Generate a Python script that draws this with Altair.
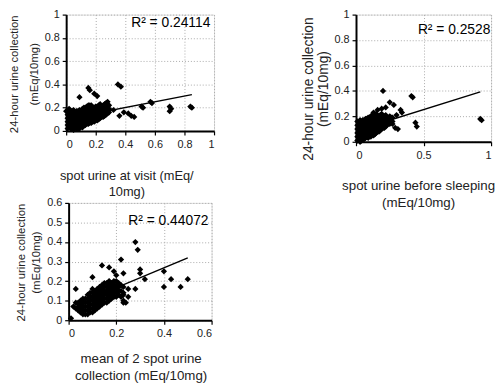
import altair as alt
import pandas as pd

FONT = "Liberation Sans"

# ---------------- Panel 1: spot urine at visit ----------------
visit_points = [
    (0.00, 0.17), (0.01, 0.02), (0.01, 0.05), (0.01, 0.08), (0.01, 0.11), (0.01, 0.14),
    (0.02, 0.19), (0.03, 0.02), (0.03, 0.05), (0.03, 0.08), (0.03, 0.11), (0.03, 0.14), (0.03, 0.17),
    (0.05, 0.01), (0.05, 0.04), (0.05, 0.07), (0.05, 0.10), (0.05, 0.13), (0.05, 0.16), (0.05, 0.18),
    (0.07, 0.02), (0.07, 0.05), (0.07, 0.08), (0.07, 0.11), (0.07, 0.14), (0.07, 0.17),
    (0.09, 0.02), (0.09, 0.05), (0.09, 0.08), (0.09, 0.11), (0.09, 0.14), (0.09, 0.18),
    (0.11, 0.03), (0.11, 0.06), (0.11, 0.09), (0.11, 0.12), (0.11, 0.15), (0.11, 0.19),
    (0.13, 0.05), (0.13, 0.08), (0.13, 0.11), (0.13, 0.14), (0.13, 0.17), (0.13, 0.20),
    (0.15, 0.06), (0.15, 0.09), (0.15, 0.12), (0.15, 0.15), (0.15, 0.18), (0.15, 0.22),
    (0.17, 0.07), (0.17, 0.10), (0.17, 0.13), (0.17, 0.16), (0.17, 0.19), (0.17, 0.22),
    (0.19, 0.08), (0.19, 0.11), (0.19, 0.14), (0.19, 0.17), (0.19, 0.20),
    (0.21, 0.09), (0.21, 0.12), (0.21, 0.15), (0.21, 0.18), (0.21, 0.21),
    (0.23, 0.11), (0.23, 0.14), (0.23, 0.17), (0.23, 0.20), (0.23, 0.23),
    (0.25, 0.12), (0.25, 0.15), (0.25, 0.18), (0.25, 0.22),
    (0.27, 0.14), (0.27, 0.17), (0.27, 0.20), (0.27, 0.24),
    (0.29, 0.16), (0.29, 0.19), (0.29, 0.22),
    (0.02, 0.03), (0.02, 0.06), (0.02, 0.09), (0.02, 0.12), (0.02, 0.15),
    (0.04, 0.02), (0.04, 0.05), (0.04, 0.08), (0.04, 0.11), (0.04, 0.14), (0.04, 0.17),
    (0.06, 0.03), (0.06, 0.06), (0.06, 0.09), (0.06, 0.12), (0.06, 0.15),
    (0.08, 0.02), (0.08, 0.05), (0.08, 0.08), (0.08, 0.11), (0.08, 0.14), (0.08, 0.17),
    (0.10, 0.04), (0.10, 0.07), (0.10, 0.10), (0.10, 0.13), (0.10, 0.16),
    (0.12, 0.05), (0.12, 0.08), (0.12, 0.11), (0.12, 0.14), (0.12, 0.17), (0.12, 0.20),
    (0.14, 0.06), (0.14, 0.09), (0.14, 0.12), (0.14, 0.15), (0.14, 0.18), (0.14, 0.21),
    (0.16, 0.07), (0.16, 0.10), (0.16, 0.13), (0.16, 0.16), (0.16, 0.19), (0.16, 0.22),
    (0.18, 0.08), (0.18, 0.11), (0.18, 0.14), (0.18, 0.17), (0.18, 0.20),
    (0.20, 0.09), (0.20, 0.12), (0.20, 0.15), (0.20, 0.18), (0.20, 0.21),
    (0.22, 0.10), (0.22, 0.13), (0.22, 0.16), (0.22, 0.19), (0.22, 0.22),
    (0.24, 0.12), (0.24, 0.15), (0.24, 0.18), (0.24, 0.21),
    (0.26, 0.13), (0.26, 0.16), (0.26, 0.19), (0.26, 0.23),
    (0.28, 0.15), (0.28, 0.18), (0.28, 0.21), (0.28, 0.25),
    (0.09, 0.29), (0.15, 0.37), (0.16, 0.35), (0.19, 0.32), (0.21, 0.30),
    (0.35, 0.40), (0.37, 0.38), (0.36, 0.13), (0.39, 0.16), (0.42, 0.15), (0.44, 0.13),
    (0.46, 0.12), (0.32, 0.18), (0.51, 0.21), (0.52, 0.20), (0.57, 0.25), (0.58, 0.24),
    (0.70, 0.21), (0.71, 0.19), (0.70, 0.17), (0.84, 0.21), (0.85, 0.20),
]
visit_line_x = [0.0, 0.85]
visit_line_y = [0.103, 0.312]
visit_r2 = "R² = 0.24114"

# ---------------- Panel 2: spot urine before sleeping ----------------
sleep_points = [
    (0.01, 0.01), (0.01, 0.04), (0.01, 0.07), (0.01, 0.10), (0.01, 0.13), (0.01, 0.16),
    (0.03, 0.00), (0.03, 0.03), (0.03, 0.06), (0.03, 0.09), (0.03, 0.12), (0.03, 0.15), (0.03, 0.17),
    (0.05, 0.02), (0.05, 0.05), (0.05, 0.08), (0.05, 0.11), (0.05, 0.14), (0.05, 0.17),
    (0.07, 0.03), (0.07, 0.06), (0.07, 0.09), (0.07, 0.12), (0.07, 0.15), (0.07, 0.18),
    (0.09, 0.03), (0.09, 0.06), (0.09, 0.09), (0.09, 0.12), (0.09, 0.15), (0.09, 0.19),
    (0.11, 0.04), (0.11, 0.07), (0.11, 0.10), (0.11, 0.13), (0.11, 0.16), (0.11, 0.20),
    (0.13, 0.05), (0.13, 0.08), (0.13, 0.11), (0.13, 0.14), (0.13, 0.17), (0.13, 0.21),
    (0.15, 0.07), (0.15, 0.10), (0.15, 0.13), (0.15, 0.16), (0.15, 0.19), (0.15, 0.22),
    (0.17, 0.08), (0.17, 0.11), (0.17, 0.14), (0.17, 0.17), (0.17, 0.20),
    (0.19, 0.10), (0.19, 0.13), (0.19, 0.16), (0.19, 0.19), (0.19, 0.22),
    (0.21, 0.11), (0.21, 0.14), (0.21, 0.17), (0.21, 0.20),
    (0.23, 0.13), (0.23, 0.16), (0.23, 0.19),
    (0.25, 0.14), (0.25, 0.17), (0.25, 0.20),
    (0.27, 0.16), (0.27, 0.19),
    (0.02, 0.02), (0.02, 0.05), (0.02, 0.08), (0.02, 0.11), (0.02, 0.14),
    (0.04, 0.01), (0.04, 0.04), (0.04, 0.07), (0.04, 0.10), (0.04, 0.13), (0.04, 0.16),
    (0.06, 0.02), (0.06, 0.05), (0.06, 0.08), (0.06, 0.11), (0.06, 0.14), (0.06, 0.17),
    (0.08, 0.04), (0.08, 0.07), (0.08, 0.10), (0.08, 0.13), (0.08, 0.16), (0.08, 0.18),
    (0.10, 0.05), (0.10, 0.08), (0.10, 0.11), (0.10, 0.14), (0.10, 0.17), (0.10, 0.19),
    (0.12, 0.06), (0.12, 0.09), (0.12, 0.12), (0.12, 0.15), (0.12, 0.18), (0.12, 0.21),
    (0.14, 0.06), (0.14, 0.09), (0.14, 0.12), (0.14, 0.15), (0.14, 0.18), (0.14, 0.20),
    (0.16, 0.08), (0.16, 0.11), (0.16, 0.14), (0.16, 0.17), (0.16, 0.20),
    (0.18, 0.09), (0.18, 0.12), (0.18, 0.15), (0.18, 0.18), (0.18, 0.21),
    (0.20, 0.11), (0.20, 0.14), (0.20, 0.17), (0.20, 0.20),
    (0.22, 0.12), (0.22, 0.15), (0.22, 0.18), (0.22, 0.21),
    (0.24, 0.15), (0.24, 0.18), (0.26, 0.16), (0.26, 0.19),
    (0.20, 0.40), (0.41, 0.36), (0.42, 0.35), (0.92, 0.18), (0.93, 0.17),
    (0.44, 0.15), (0.45, 0.12), (0.25, 0.31), (0.22, 0.27), (0.19, 0.26), (0.16, 0.25),
    (0.13, 0.23), (0.33, 0.25), (0.34, 0.23), (0.27, 0.14), (0.29, 0.11), (0.31, 0.10),
    (0.30, 0.21), (0.28, 0.29),
]
sleep_line_x = [0.0, 0.92]
sleep_line_y = [0.087, 0.393]
sleep_r2 = "R² = 0.2528"

# ---------------- Panel 3: mean of 2 spot urine collection ----------------
mean_points = [
    (0.01, 0.01), (0.02, 0.07), (0.03, 0.06), (0.03, 0.09),
    (0.05, 0.04), (0.05, 0.06), (0.05, 0.08), (0.05, 0.10),
    (0.07, 0.03), (0.07, 0.05), (0.07, 0.07), (0.07, 0.09), (0.07, 0.11),
    (0.09, 0.04), (0.09, 0.06), (0.09, 0.08), (0.09, 0.10), (0.09, 0.12), (0.09, 0.14),
    (0.11, 0.05), (0.11, 0.07), (0.11, 0.09), (0.11, 0.11), (0.11, 0.13), (0.11, 0.15),
    (0.13, 0.07), (0.13, 0.09), (0.13, 0.11), (0.13, 0.13), (0.13, 0.15), (0.13, 0.17),
    (0.15, 0.09), (0.15, 0.11), (0.15, 0.13), (0.15, 0.15), (0.15, 0.17), (0.15, 0.19),
    (0.17, 0.10), (0.17, 0.12), (0.17, 0.14), (0.17, 0.16), (0.17, 0.18), (0.17, 0.20),
    (0.19, 0.12), (0.19, 0.14), (0.19, 0.16), (0.19, 0.18), (0.19, 0.20),
    (0.21, 0.13), (0.21, 0.15), (0.21, 0.17), (0.21, 0.19),
    (0.23, 0.10), (0.23, 0.14), (0.23, 0.17), (0.24, 0.09), (0.25, 0.12), (0.25, 0.16),
    (0.04, 0.05), (0.04, 0.07), (0.04, 0.09),
    (0.06, 0.03), (0.06, 0.05), (0.06, 0.07), (0.06, 0.09), (0.06, 0.11),
    (0.08, 0.03), (0.08, 0.05), (0.08, 0.07), (0.08, 0.09), (0.08, 0.11), (0.08, 0.13),
    (0.10, 0.04), (0.10, 0.06), (0.10, 0.08), (0.10, 0.10), (0.10, 0.12), (0.10, 0.14), (0.10, 0.16),
    (0.12, 0.06), (0.12, 0.08), (0.12, 0.10), (0.12, 0.12), (0.12, 0.14), (0.12, 0.16),
    (0.14, 0.08), (0.14, 0.10), (0.14, 0.12), (0.14, 0.14), (0.14, 0.16), (0.14, 0.18),
    (0.16, 0.09), (0.16, 0.11), (0.16, 0.13), (0.16, 0.15), (0.16, 0.17), (0.16, 0.19),
    (0.18, 0.11), (0.18, 0.13), (0.18, 0.15), (0.18, 0.17), (0.18, 0.19),
    (0.20, 0.12), (0.20, 0.14), (0.20, 0.16), (0.20, 0.18), (0.20, 0.20),
    (0.22, 0.12), (0.22, 0.15), (0.22, 0.18),
    (0.03, 0.16), (0.28, 0.40), (0.29, 0.36), (0.22, 0.31), (0.14, 0.28), (0.17, 0.27),
    (0.19, 0.25), (0.20, 0.23), (0.23, 0.24), (0.10, 0.22), (0.30, 0.26), (0.30, 0.24),
    (0.32, 0.21), (0.40, 0.25), (0.40, 0.17), (0.43, 0.21), (0.47, 0.17), (0.50, 0.21),
    (0.28, 0.16), (0.23, 0.13), (0.23, 0.09),
]
mean_line_x = [0.01, 0.50]
mean_line_y = [0.069, 0.319]
mean_r2 = "R² = 0.44072"

y_title = ["24-hour urine collection", "(mEq/10mg)"]


def panel(points, line_x, line_y, r2, r2_x, r2_y, x_max, y_max, x_ticks, y_ticks,
          width, height, x_title, x_title_pos, x_title_size, x_title_lh,
          y_title_pos, y_title_size, y_title_lh):
    pts = pd.DataFrame(points, columns=["x", "y"])
    ln = pd.DataFrame({"x": line_x, "y": line_y})
    tx = pd.DataFrame({"x": [r2_x], "y": [r2_y], "t": [r2]})

    xs = alt.Scale(domain=[0, x_max], nice=False, zero=True)
    ys = alt.Scale(domain=[0, y_max], nice=False, zero=True)
    common = dict(
        format="~g", grid=True, gridColor="#aaaaaa", gridDash=[1, 2], gridWidth=1,
        domainColor="black", domainWidth=2, tickColor="black", tickSize=4, tickWidth=1.2,
        labelFont=FONT, labelFontSize=11, labelColor="#222222",
        titleFont=FONT, titleFontWeight="normal", titleColor="#222222",
        titleAlign="center", titleBaseline="middle",
    )
    xaxis = alt.Axis(values=x_ticks, title=x_title, labelPadding=4,
                     titleX=x_title_pos[0], titleY=x_title_pos[1], titleAngle=0,
                     titleFontSize=x_title_size, titleLineHeight=x_title_lh, **common)
    yaxis = alt.Axis(values=y_ticks, title=y_title, labelPadding=3,
                     titleX=y_title_pos[0], titleY=y_title_pos[1], titleAngle=270,
                     titleFontSize=y_title_size, titleLineHeight=y_title_lh, **common)
    X = alt.X("x:Q", scale=xs, axis=xaxis)
    Y = alt.Y("y:Q", scale=ys, axis=yaxis)

    scatter = alt.Chart(pts).mark_point(shape="diamond", filled=True, size=40,
                                        color="black", opacity=1).encode(x=X, y=Y)
    trend = alt.Chart(ln).mark_line(color="black", strokeWidth=1.4).encode(x=X, y=Y)
    label = alt.Chart(tx).mark_text(align="right", baseline="middle", font=FONT,
                                    fontSize=14, color="black").encode(x=X, y=Y, text="t:N")
    return alt.layer(scatter, trend, label).properties(width=width, height=height)


p1 = panel(visit_points, visit_line_x, visit_line_y, visit_r2, 0.975, 0.93,
           1, 1, [0, 0.2, 0.4, 0.6, 0.8, 1], [0, 0.2, 0.4, 0.6, 0.8, 1],
           150, 118, ["spot urine at visit (mEq/", "10mg)"], (61, 45), 13, 16,
           (-52.5, 60), 11.5, 20)
p2 = panel(sleep_points, sleep_line_x, sleep_line_y, sleep_r2, 0.995, 0.876,
           1, 1, [0, 0.5, 1], [0, 0.2, 0.4, 0.6, 0.8, 1],
           137, 129, ["spot urine before sleeping", "(mEq/10mg)"], (63, 44), 13.5, 18,
           (-48, 75), 14, 15)
p3 = panel(mean_points, mean_line_x, mean_line_y, mean_r2, 0.587, 0.505,
           0.6, 0.6, [0, 0.2, 0.4, 0.6], [0, 0.1, 0.2, 0.3, 0.4, 0.5, 0.6],
           145, 119, ["mean of 2 spot urine", "collection (mEq/10mg)"], (73, 39), 13.5, 17,
           (-48, 60), 11.5, 15)

chart = alt.concat(
    p1, p2, p3, columns=2,
    spacing={"row": 62, "column": 144},
    bounds="flush", align="each", center={"row": False, "column": True},
).properties(
    padding={"left": 0, "top": -3, "right": 0, "bottom": 0}
).configure_view(stroke=None).configure(background="white")

chart.save("out.html", embed_options={"renderer": "svg", "actions": False})
